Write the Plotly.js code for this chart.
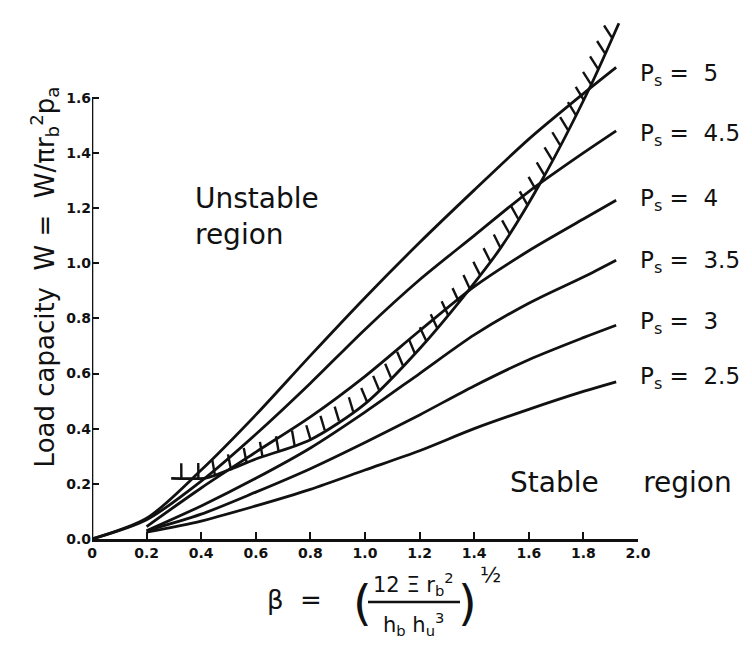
<!DOCTYPE html>
<html>
<head>
<meta charset="utf-8">
<script src="https://cdn.plot.ly/plotly-3.0.1.min.js"></script>
<style>html,body{margin:0;padding:0;background:#fff;}#chart{width:752px;height:660px;}</style>
</head>
<body>
<div id="chart"></div>
<script>
// ---- data ----
const betaOrigin = [0, 0.2, 0.4, 0.6, 0.8, 1.0, 1.2, 1.4, 1.6, 1.8, 1.92];
const betaStart  = [0.2, 0.4, 0.6, 0.8, 1.0, 1.2, 1.4, 1.6, 1.8, 1.92];
const wPs5   = [0, 0.075, 0.25, 0.45, 0.665, 0.875, 1.075, 1.265, 1.45, 1.615, 1.71];
const wPs45  = [0, 0.07, 0.21, 0.38, 0.565, 0.76, 0.94, 1.10, 1.26, 1.40, 1.48];
const wPs4   = [0.045, 0.185, 0.315, 0.443, 0.59, 0.755, 0.915, 1.045, 1.16, 1.228];
const wPs35  = [0.03, 0.12, 0.22, 0.33, 0.46, 0.60, 0.74, 0.855, 0.95, 1.011];
const wPs3   = [0.03, 0.09, 0.17, 0.255, 0.35, 0.45, 0.555, 0.65, 0.73, 0.775];
const wPs25  = [0.025, 0.065, 0.12, 0.18, 0.25, 0.32, 0.40, 0.47, 0.535, 0.57];
const betaBound = [0.29, 0.42, 0.5, 0.6, 0.8, 1.0, 1.2, 1.385, 1.5, 1.652, 1.824, 1.93];
const wBound    = [0.22, 0.222, 0.25, 0.29, 0.36, 0.49, 0.69, 0.909, 1.06, 1.308, 1.638, 1.87];
const curveLabels = ['P<sub>s</sub> =  5', 'P<sub>s</sub> =  4.5', 'P<sub>s</sub> =  4', 'P<sub>s</sub> =  3.5', 'P<sub>s</sub> =  3', 'P<sub>s</sub> =  2.5'];
const xTickVals = [0, 0.2, 0.4, 0.6, 0.8, 1.0, 1.2, 1.4, 1.6, 1.8, 2.0];
const xTickText = ['0', '0.2', '0.4', '0.6', '0.8', '1.0', '1.2', '1.4', '1.6', '1.8', '2.0'];
const yTickVals = [0, 0.2, 0.4, 0.6, 0.8, 1.0, 1.2, 1.4, 1.6];
const yTickText = ['0.0', '0.2', '0.4', '0.6', '0.8', '1.0', '1.2', '1.4', '1.6'];

// ---- layout geometry ----
const W = 752, H = 660;
const M = {l: 92, r: 114, t: 15, b: 121};
const xRange = [0, 2.0], yRange = [0, 1.9];
const PW = W - M.l - M.r, PH = H - M.t - M.b;
const pxPerX = PW / (xRange[1] - xRange[0]);
const pxPerY = PH / (yRange[1] - yRange[0]);

const ink = '#111';
const lw = 2.8;
const FONT = 'DejaVu Sans, Liberation Sans, sans-serif';

function curve(x, y) {
  return {x: x, y: y, type: 'scatter', mode: 'lines', line: {color: ink, width: lw, shape: 'spline', smoothing: 0.8}, hoverinfo: 'skip', showlegend: false};
}

// hatch ticks along the stability boundary (upper-left side)
function hatch(bx, by, spacingPx, lenPx) {
  const hx = [], hy = [];
  const segs = [];
  let total = 0;
  for (let i = 0; i < bx.length - 1; i++) {
    const dx = (bx[i+1] - bx[i]) * pxPerX, dy = (by[i+1] - by[i]) * pxPerY;
    const L = Math.hypot(dx, dy);
    segs.push({i: i, L: L, dx: dx, dy: dy, s0: total});
    total += L;
  }
  for (let s = spacingPx * 0.6; s < total; s += spacingPx) {
    const sg = segs.find(g => s >= g.s0 && s <= g.s0 + g.L) || segs[segs.length - 1];
    const t = (s - sg.s0) / sg.L;
    const x0 = bx[sg.i] + t * (bx[sg.i+1] - bx[sg.i]);
    const y0 = by[sg.i] + t * (by[sg.i+1] - by[sg.i]);
    const ux = sg.dx / sg.L, uy = sg.dy / sg.L;
    let px = -uy, py = ux + 1;
    const n = Math.hypot(px, py);
    px /= n; py /= n;
    hx.push(x0, x0 + px * lenPx / pxPerX, null);
    hy.push(y0, y0 + py * lenPx / pxPerY, null);
  }
  return {x: hx, y: hy, type: 'scatter', mode: 'lines', line: {color: ink, width: 2.4}, hoverinfo: 'skip', showlegend: false};
}

const traces = [
  curve(betaOrigin, wPs5),
  curve(betaOrigin, wPs45),
  curve(betaStart, wPs4),
  curve(betaStart, wPs35),
  curve(betaStart, wPs3),
  curve(betaStart, wPs25),
  curve(betaBound, wBound),
  hatch(betaBound, wBound, 17, 15)
];

function paperAnn(text, px, py, size, xanchor, extra) {
  return Object.assign({
    xref: 'paper', yref: 'paper',
    x: (px - M.l) / PW,
    y: 1 - (py - M.t) / PH,
    xanchor: xanchor || 'center', yanchor: 'middle', showarrow: false,
    text: text, font: {family: FONT, size: size, color: ink}
  }, extra || {});
}
const labelPix = [[638, 75], [638, 135], [638, 200], [638, 262], [638, 323], [638, 378]];
const annotations = curveLabels.map((t, i) => paperAnn(t, labelPix[i][0], labelPix[i][1], 23, 'left'));
annotations.push(paperAnn('Unstable<br>region', 193, 216, 28, 'left', {align: 'left'}));
annotations.push(paperAnn('Stable&nbsp;&nbsp;&nbsp;&nbsp;&nbsp;region', 508, 482, 28, 'left'));
// x-axis title: beta = ( 12 Ξ r_b^2 / h_b h_u^3 )^(1/2)
annotations.push(paperAnn('β  =', 294, 600, 26, 'center'));
annotations.push(paperAnn('(', 362, 603, 48, 'center'));
annotations.push(paperAnn('12 Ξ r<sub>b</sub><sup>2</sup>', 413, 584, 21, 'center'));
annotations.push(paperAnn('h<sub>b</sub> h<sub>u</sub><sup>3</sup>', 413, 624, 21, 'center'));
annotations.push(paperAnn(')', 467, 603, 48, 'center'));
annotations.push(paperAnn('½', 490, 574, 22, 'center'));

const shapes = [
  {type: 'line', xref: 'x', yref: 'y', x0: 0, x1: 0, y0: 0, y1: 1.6, line: {color: ink, width: 2.6}},
  {type: 'line', xref: 'paper', yref: 'paper',
   x0: (368 - M.l) / PW, x1: (460 - M.l) / PW,
   y0: 1 - (602 - M.t) / PH, y1: 1 - (602 - M.t) / PH,
   line: {color: ink, width: 2.4}}
];

const layout = {
  width: W, height: H,
  margin: M,
  paper_bgcolor: '#fff', plot_bgcolor: '#fff',
  showlegend: false,
  font: {family: FONT, color: ink},
  xaxis: {
    range: xRange, showgrid: false, zeroline: false,
    showline: true, linecolor: ink, linewidth: 2.6,
    ticks: 'inside', ticklen: 7, tickwidth: 2, tickcolor: ink,
    tickvals: xTickVals, ticktext: xTickText,
    tickfont: {family: FONT, size: 14, color: ink, weight: 'bold'}
  },
  yaxis: {
    range: yRange, showgrid: false, zeroline: false, showline: false,
    ticks: 'inside', ticklen: 7, tickwidth: 2, tickcolor: ink,
    tickvals: yTickVals, ticktext: yTickText,
    tickfont: {family: FONT, size: 14, color: ink, weight: 'bold'},
    title: {text: 'Load capacity  W =  W/πr<sub>b</sub><sup>2</sup>p<sub>a</sub>', font: {family: FONT, size: 26, color: ink}, standoff: 4}
  },
  annotations: annotations,
  shapes: shapes
};

Plotly.newPlot('chart', traces, layout, {staticPlot: true, displayModeBar: false});
</script>
</body>
</html>
